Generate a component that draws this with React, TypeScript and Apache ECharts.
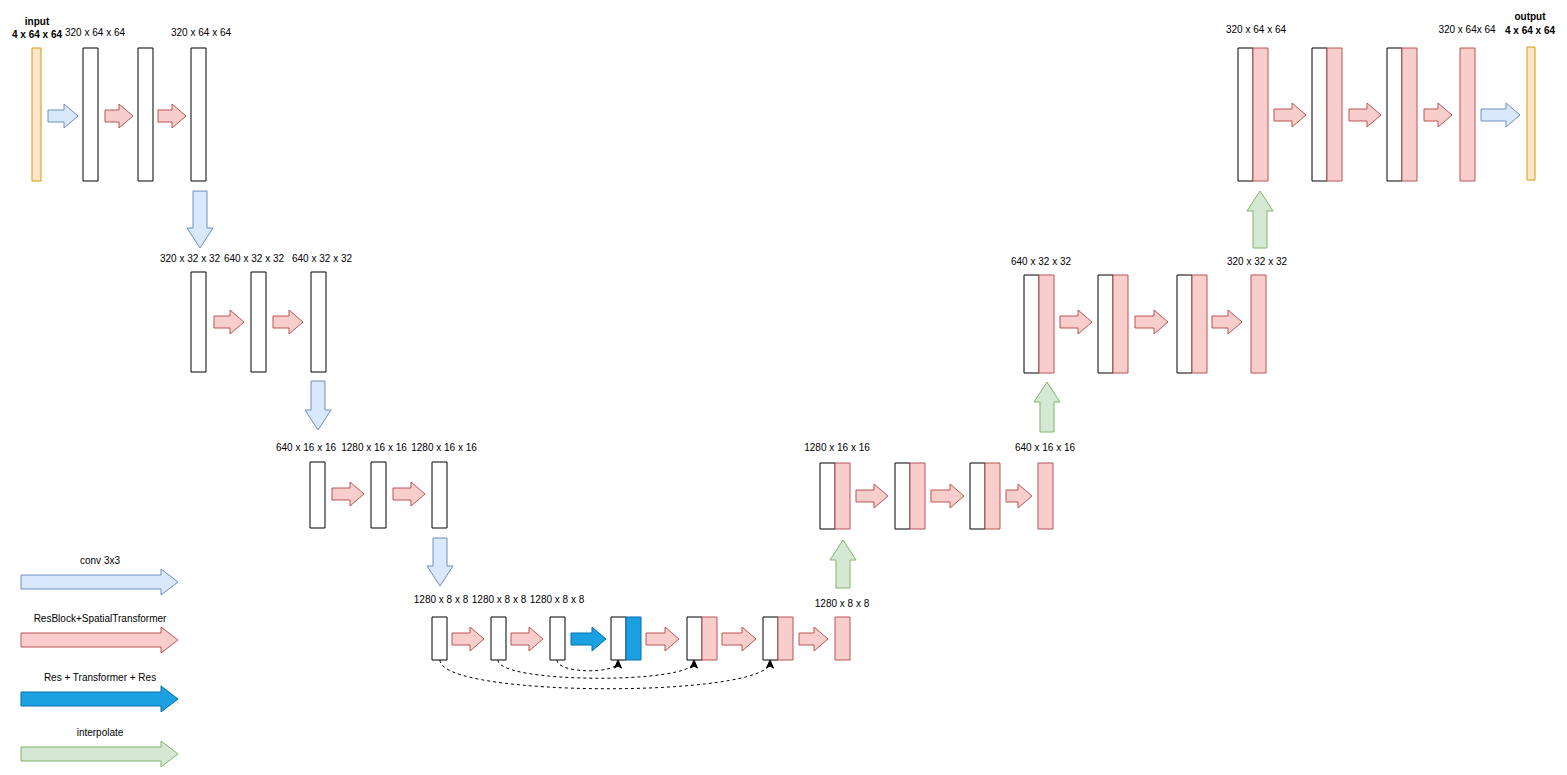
import React, { useEffect, useRef } from "react";
import * as echarts from "echarts";

// Texts of the diagram
const sizeLabels = [
  "320 x 64 x 64", "320 x 64 x 64",
  "320 x 32 x 32", "640 x 32 x 32", "640 x 32 x 32",
  "640 x 16 x 16", "1280 x 16 x 16", "1280 x 16 x 16",
  "1280 x 8 x 8", "1280 x 8 x 8", "1280 x 8 x 8", "1280 x 8 x 8",
  "1280 x 16 x 16", "640 x 16 x 16",
  "640 x 32 x 32", "320 x 32 x 32",
  "320 x 64 x 64", "320 x 64x 64",
];
const ioLabels = ["input", "4 x 64 x 64", "output", "4 x 64 x 64"];
const legendLabels = ["conv 3x3", "ResBlock+SpatialTransformer", "Res + Transformer + Res", "interpolate"];

const C = {
  blue: { fill: "#dae8fc", stroke: "#6c8ebf" },
  red: { fill: "#f8cecc", stroke: "#b85450" },
  dark: { fill: "#1ba1e2", stroke: "#006eaf" },
  green: { fill: "#d5e8d4", stroke: "#82b366" },
  yellow: { fill: "#ffe6cc", stroke: "#d79b00" },
  white: { fill: "#ffffff", stroke: "#000000" },
};

function rect(x: number, y: number, w: number, h: number, c: any) {
  return { type: "rect", shape: { x, y, width: w, height: h }, style: { fill: c.fill, stroke: c.stroke, lineWidth: 1 } };
}
function harrow(x1: number, x2: number, cy: number, H: number, S: number, c: any, head = 14) {
  const hx = x2 - head;
  return {
    type: "polygon",
    shape: { points: [[x1, cy - S / 2], [hx, cy - S / 2], [hx, cy - H / 2], [x2, cy], [hx, cy + H / 2], [hx, cy + S / 2], [x1, cy + S / 2]] },
    style: { fill: c.fill, stroke: c.stroke, lineWidth: 1 },
  };
}
function varrow(cx: number, y1: number, y2: number, W: number, S: number, c: any, head = 20) {
  // y1 = tail, y2 = tip
  const d = y2 > y1 ? 1 : -1;
  const hy = y2 - d * head;
  return {
    type: "polygon",
    shape: { points: [[cx - S / 2, y1], [cx - S / 2, hy], [cx - W / 2, hy], [cx, y2], [cx + W / 2, hy], [cx + S / 2, hy], [cx + S / 2, y1]] },
    style: { fill: c.fill, stroke: c.stroke, lineWidth: 1 },
  };
}
function text(t: string, x: number, y: number, bold = false, align = "center") {
  return {
    type: "text", x, y,
    style: { text: t, fill: "#000", font: `${bold ? "bold " : ""}10px "Liberation Sans", Arial, sans-serif`, align, verticalAlign: "middle" },
  };
}
function pair(x: number, y: number, h: number, c: any) {
  return [rect(x, y, 15, h, C.white), rect(x + 15, y, 15, h, c)];
}
function dashed(x1: number, x2: number, y: number, dip: number) {
  return [
    { type: "bezierCurve", shape: { x1, y1: y, cpx1: x1, cpy1: y + dip, cpx2: x2, cpy2: y + dip, x2, y2: y + 2 }, style: { stroke: "#000", lineWidth: 1, lineDash: [3, 3], fill: "none" } },
    { type: "polygon", shape: { points: [[x2, y], [x2 - 3.5, y + 8], [x2, y + 6], [x2 + 3.5, y + 8]] }, style: { fill: "#000", stroke: "#000" } },
  ];
}

export default function App() {
  const ref = useRef<HTMLDivElement>(null);
  useEffect(() => {
    const chart = echarts.init(ref.current!, null, { renderer: "svg" });
    const L = sizeLabels;
    const els: any[] = [];
    // Row 1 left
    els.push(rect(32, 48, 9, 133, C.yellow));
    [83, 138, 191].forEach((x) => els.push(rect(x, 48, 15, 133, C.white)));
    els.push(harrow(48, 78, 116, 24, 12, C.blue), harrow(105, 133, 116, 24, 12, C.red), harrow(158, 186, 116, 24, 12, C.red));
    els.push(text(ioLabels[0], 37, 21, true), text(ioLabels[1], 37, 34, true), text(L[0], 95, 32), text(L[1], 201, 32));
    els.push(varrow(200, 191, 248, 26, 14, C.blue));
    // Row 2 left
    [191, 251, 311].forEach((x) => els.push(rect(x, 272, 15, 100, C.white)));
    els.push(harrow(214, 244, 322, 24, 12, C.red), harrow(273, 303, 322, 24, 12, C.red));
    els.push(text(L[2], 190, 258), text(L[3], 254, 258), text(L[4], 322, 258));
    els.push(varrow(318, 381, 430, 26, 14, C.blue));
    // Row 3 left
    [310, 371, 432].forEach((x) => els.push(rect(x, 462, 15, 66, C.white)));
    els.push(harrow(332, 364, 494, 24, 12, C.red), harrow(393, 425, 494, 24, 12, C.red));
    els.push(text(L[5], 306, 447), text(L[6], 374, 447), text(L[7], 444, 447));
    els.push(varrow(440, 538, 586, 26, 14, C.blue));
    // Row 4
    [432, 491, 550].forEach((x) => els.push(rect(x, 617, 15, 43, C.white)));
    els.push(...pair(611, 617, 43, C.dark), ...pair(687, 617, 43, C.red), ...pair(763, 617, 43, C.red));
    els.push(rect(835, 617, 15, 43, C.red));
    els.push(harrow(452, 484, 639, 24, 12, C.red), harrow(511, 543, 639, 24, 12, C.red),
      harrow(571, 606, 639, 24, 12, C.dark), harrow(646, 679, 639, 24, 12, C.red),
      harrow(722, 756, 639, 24, 12, C.red), harrow(799, 828, 639, 24, 12, C.red));
    els.push(text(L[8], 441, 599), text(L[9], 499, 599), text(L[10], 557, 599), text(L[11], 842, 603));
    els.push(...dashed(440, 770, 660, 38), ...dashed(498, 694, 660, 24), ...dashed(557, 618, 660, 14));
    els.push(varrow(843, 588, 540, 26, 14, C.green));
    // Row 3 right
    els.push(...pair(820, 463, 66, C.red), ...pair(895, 463, 66, C.red), ...pair(970, 463, 66, C.red));
    els.push(rect(1038, 463, 15, 66, C.red));
    els.push(harrow(856, 888, 496, 24, 12, C.red), harrow(931, 964, 496, 24, 12, C.red), harrow(1006, 1032, 496, 24, 12, C.red));
    els.push(text(L[12], 837, 447), text(L[13], 1045, 447));
    els.push(varrow(1047, 432, 382, 26, 14, C.green));
    // Row 2 right
    els.push(...pair(1024, 275, 98, C.red), ...pair(1098, 275, 98, C.red), ...pair(1177, 275, 98, C.red));
    els.push(rect(1251, 275, 15, 98, C.red));
    els.push(harrow(1060, 1092, 322, 24, 12, C.red), harrow(1135, 1168, 322, 24, 12, C.red), harrow(1212, 1242, 322, 24, 12, C.red));
    els.push(text(L[14], 1041, 261), text(L[15], 1257, 261));
    els.push(varrow(1260, 248, 191, 26, 14, C.green));
    // Row 1 right
    els.push(...pair(1238, 48, 133, C.red), ...pair(1312, 48, 133, C.red), ...pair(1387, 48, 133, C.red));
    els.push(rect(1460, 48, 15, 133, C.red), rect(1527, 47, 8, 133, C.yellow));
    els.push(harrow(1274, 1306, 115, 24, 12, C.red), harrow(1349, 1381, 115, 24, 12, C.red),
      harrow(1424, 1452, 115, 24, 12, C.red), harrow(1481, 1520, 115, 24, 12, C.blue));
    els.push(text(L[16], 1256, 29), text(L[17], 1467, 29));
    els.push(text(ioLabels[2], 1530, 16, true), text(ioLabels[3], 1530, 30, true));
    // Legend
    const legendColors = [C.blue, C.red, C.dark, C.green];
    const legendY = [582, 640, 699, 754];
    legendLabels.forEach((t, i) => {
      els.push(harrow(21, 178, legendY[i], 26, 14, legendColors[i], 17));
      els.push(text(t, 100, legendY[i] - 22));
    });
    chart.setOption({ animation: false, graphic: { elements: els } });
    return () => chart.dispose();
  }, []);
  return <div ref={ref} style={{ position: "fixed", left: 0, top: 0, width: 1567, height: 775, background: "#fff" }} />;
}
